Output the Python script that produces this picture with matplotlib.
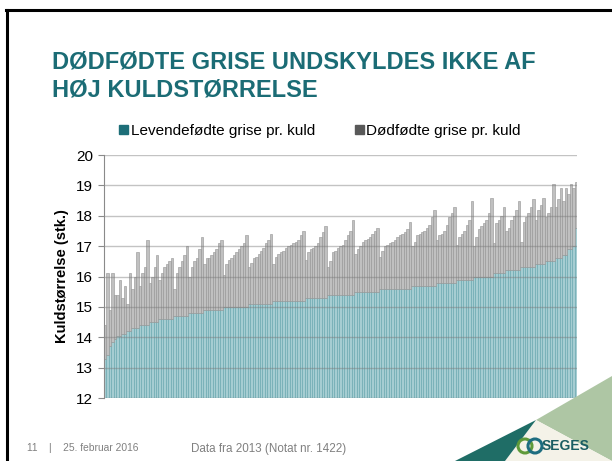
import matplotlib.pyplot as plt
import matplotlib.patches as mpatches
from matplotlib.lines import Line2D
import numpy as np

plt.rcParams['font.family'] = ['Liberation Sans', 'DejaVu Sans']

# live born per litter, one value per herd group (herds sorted by live born)
group_live = [13.3, 13.4, 13.7, 13.85, 13.95, 14.05, 14.1, 14.2, 14.3,
              14.4, 14.5, 14.6, 14.7, 14.8, 14.9, 15.0, 15.1, 15.2, 15.3,
              15.4, 15.5, 15.6, 15.7, 15.8, 15.9, 16.0, 16.1, 16.2, 16.3,
              16.4, 16.5, 16.6, 16.7, 16.9, 17.0, 17.6]

# total born (live + still born) for the herds in each group
group_total = [
    [14.4], [16.1], [14.9], [16.1], [15.4],
    [15.4, 15.9], [15.3, 15.7], [15.1, 16.1], [15.6, 16.0, 16.8],
    [15.7, 16.1, 16.3, 17.2],
    [15.8, 16.0, 16.3, 16.7],
    [15.9, 16.1, 16.3, 16.4, 16.5, 16.6],
    [15.6, 16.1, 16.3, 16.5, 16.7, 17.0],
    [16.0, 16.3, 16.5, 16.6, 16.9, 17.3],
    [16.4, 16.6, 16.6, 16.7, 16.8, 16.9, 17.1, 17.2],
    [16.05, 16.4, 16.55, 16.6, 16.7, 16.8, 16.9, 17.0, 17.1, 17.35],
    [16.3, 16.45, 16.6, 16.65, 16.75, 16.85, 16.95, 17.1, 17.2, 17.4],
    [16.4, 16.65, 16.75, 16.8, 16.85, 16.95, 17.0, 17.05, 17.1, 17.15, 17.2, 17.35, 17.5],
    [16.55, 16.8, 16.9, 16.95, 17.0, 17.1, 17.3, 17.45, 17.65],
    [16.3, 16.5, 16.8, 16.85, 16.95, 17.0, 17.05, 17.2, 17.35, 17.5, 17.85],
    [16.75, 16.9, 17.0, 17.15, 17.2, 17.25, 17.3, 17.4, 17.5, 17.6],
    [16.65, 16.85, 17.0, 17.05, 17.1, 17.15, 17.2, 17.3, 17.35, 17.4, 17.45, 17.55, 17.8],
    [17.0, 17.15, 17.35, 17.4, 17.45, 17.5, 17.6, 17.7, 17.95, 18.2],
    [17.2, 17.35, 17.4, 17.5, 17.7, 17.95, 18.1, 18.3],
    [17.05, 17.3, 17.4, 17.5, 17.7, 17.85, 18.5],
    [17.0, 17.3, 17.55, 17.65, 17.75, 17.85, 18.1, 18.6],
    [17.1, 17.75, 17.85, 18.0, 18.3],
    [17.5, 17.6, 17.85, 18.0, 18.2, 18.5],
    [17.15, 17.8, 17.95, 18.1, 18.3, 18.55],
    [17.85, 18.2, 18.35, 18.6],
    [17.95, 18.1, 18.3, 19.05],
    [18.3, 18.55, 18.9],
    [18.5, 18.9],
    [18.7, 19.05],
    [18.9],
    [19.1],
]

y_ticks = [12, 13, 14, 15, 16, 17, 18, 19, 20]
series_names = ["Levendefødte grise pr. kuld", "Dødfødte grise pr. kuld"]

live = []
total = []
for lv, tots in zip(group_live, group_total):
    for t in tots:
        live.append(lv)
        total.append(t)
live = np.array(live)
dead = np.array(total) - live
x = np.arange(len(live))

W, H = 612, 461
fig = plt.figure(figsize=(W / 100, H / 100), dpi=100)

def fx(px):
    return px / W

def fy(py):
    return 1 - py / H

# slide frame (top and left)
fig.add_artist(Line2D([fx(6), 1], [fy(10), fy(10)], color='black', lw=2.2))
fig.add_artist(Line2D([fx(6.5), fx(6.5)], [fy(10), 0], color='black', lw=2.2))

# decoration bottom right
fig.add_artist(mpatches.Polygon([(fx(612), fy(376)), (fx(536), fy(420)), (fx(612), fy(461))],
                                closed=True, color='#aec6a4', lw=0))
fig.add_artist(mpatches.Polygon([(fx(536), fy(420)), (fx(612), fy(461)), (fx(505), fy(461))],
                                closed=True, color='#f4f2e8', lw=0))
fig.add_artist(mpatches.Polygon([(fx(455), fy(461)), (fx(536), fy(420)), (fx(505), fy(461))],
                                closed=True, color='#1f6d66', lw=0))
fig.add_artist(mpatches.Ellipse((fx(525), fy(446)), 14 / W, 14 / H, facecolor='none',
                                edgecolor='#5f9a3a', lw=2.2))
fig.add_artist(mpatches.Ellipse((fx(535), fy(446)), 14 / W, 14 / H, facecolor='none',
                                edgecolor='#1d6d80', lw=2.2))
fig.text(fx(542), fy(446), "SEGES", fontsize=10, fontweight='bold', color='#1a5d62',
         ha='left', va='center')

# title
fig.text(fx(52), fy(62), "DØDFØDTE GRISE UNDSKYLDES IKKE AF", fontsize=17,
         fontweight='bold', color='#1b6c75', ha='left', va='center')
fig.text(fx(52), fy(90), "HØJ KULDSTØRRELSE", fontsize=17,
         fontweight='bold', color='#1b6c75', ha='left', va='center')

# footer
fig.text(fx(27), fy(448), "11    |    25. februar 2016", fontsize=7.4, color='#808080',
         ha='left', va='center')
fig.text(fx(269), fy(449), "Data fra 2013 (Notat nr. 1422)", fontsize=8.4, color='#808080',
         ha='center', va='center')

ax = fig.add_axes([fx(104), fy(398), fx(577) - fx(104), (398 - 155) / H])
ax.bar(x, live, width=1.0, color='#a6cdd2', edgecolor='#62a3ab', linewidth=0.4, zorder=2)
ax.bar(x, dead, bottom=live, width=1.0, color='#c0c0c0', edgecolor='#929292',
       linewidth=0.4, zorder=2)

ax.set_xlim(-0.5, len(live) - 0.5)
ax.set_ylim(12, 20)
ax.set_yticks(y_ticks)
ax.set_xticks([])
ax.yaxis.grid(True, color='#7a7a7a', alpha=0.45, lw=1.0, zorder=3)
ax.set_axisbelow(False)
for s in ['top', 'right', 'bottom']:
    ax.spines[s].set_visible(False)
ax.spines['left'].set_color('#8a8a8a')
ax.spines['left'].set_zorder(4)
ax.tick_params(axis='y', length=4, color='#8a8a8a', labelsize=11, pad=4)
ax.set_ylabel("Kuldstørrelse (stk.)", fontsize=10.5, fontweight='bold')
ax.yaxis.set_label_coords(-0.075, 0.5)

handles = [mpatches.Patch(color='#1d6e78'), mpatches.Patch(color='#595959')]
fig.legend(handles, series_names, loc='center', bbox_to_anchor=(fx(320), fy(131)),
           ncol=2, frameon=False, fontsize=11, handlelength=0.6, handleheight=0.6,
           handletextpad=0.15, columnspacing=2.6)

fig.savefig("out.png", dpi=100)
